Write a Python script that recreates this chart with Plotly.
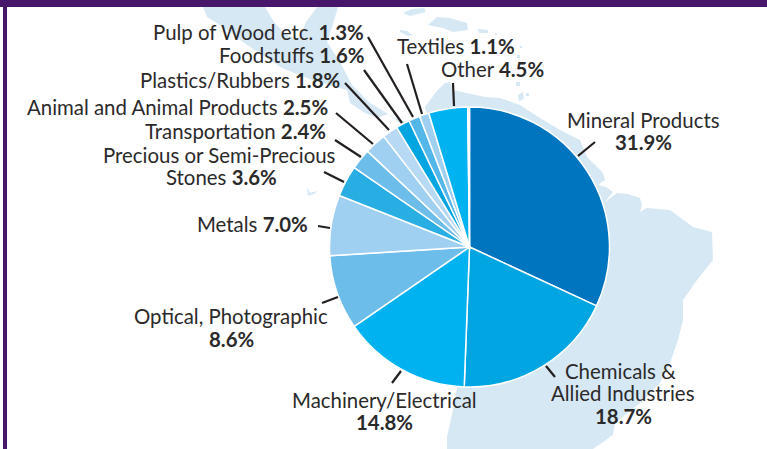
import plotly.graph_objects as go

WIDTH, HEIGHT = 767, 449

# Share of exports by sector, clockwise from twelve o'clock
sectors = ["Mineral Products", "Chemicals & Allied Industries", "Machinery/Electrical",
           "Optical, Photographic", "Metals", "Precious or Semi-Precious Stones",
           "Transportation", "Animal and Animal Products", "Plastics/Rubbers",
           "Foodstuffs", "Pulp of Wood etc.", "Textiles", "Other", "Rounding"]
shares = [31.9, 18.7, 14.8, 8.6, 7.0, 3.6, 2.4, 2.5, 1.8, 1.6, 1.3, 1.1, 4.5, 0.2]
slice_colors = ["#0075bf", "#00a5e2", "#00b3f0", "#6cbdea", "#a0d0f1", "#29aee4",
                "#6cbdea", "#a0d0f1", "#b8d9f4", "#00a5e2", "#54b7e9", "#a0d0f1",
                "#00b3f0", "#cfe6f6"]

LAND = "#d6e8f3"
FRAME = "#47166b"
INK = "#2b2a2b"

# Backdrop map outlines, in page pixels
south_america = [(425, 107), (436, 92), (445, 83), (450, 82), (453, 90), (467, 93), (485, 97),
                 (500, 98), (520, 105), (540, 118), (560, 130), (580, 140), (587, 157),
                 (603, 173), (605, 180), (598, 185), (606, 187), (613, 192), (605, 202),
                 (617, 193), (628, 194), (640, 198), (642, 205), (640, 212), (647, 208),
                 (670, 210), (693, 227), (712, 232), (713, 260), (697, 280), (683, 300),
                 (683, 320), (678, 340), (670, 363), (660, 383), (640, 403), (615, 423),
                 (613, 435), (593, 449), (447, 449), (447, 437), (453, 410), (460, 370),
                 (470, 300)]
central_america = [(203, 7), (207, 17), (223, 27), (243, 42), (262, 55), (282, 68), (312, 80),
                   (332, 86), (347, 90), (350, 103), (365, 113), (377, 118), (388, 114),
                   (400, 123), (430, 130), (395, 118), (370, 103), (352, 85), (340, 62),
                   (327, 42), (333, 24), (338, 7), (317, 7), (306, 22), (298, 40),
                   (285, 34), (274, 22), (265, 7)]
islands = [[(403, 13), (412, 9), (424, 8), (426, 12), (410, 16)],
           [(428, 25), (437, 17), (450, 18), (467, 23), (468, 30), (453, 32), (443, 28)],
           [(400, 30), (407, 31), (413, 35), (408, 36), (400, 32)],
           [(478, 29), (488, 30), (488, 33), (479, 33)],
           [(518, 95), (523, 92), (524, 99), (519, 101)],
           [(516, 82), (520, 82), (520, 86), (516, 86)],
           [(526, 93), (529, 93), (529, 96), (526, 96)],
           [(307, 187), (310, 193), (317, 191), (314, 194), (308, 196)],
           [(495, 33), (497, 33), (497, 35), (495, 35)],
           [(517, 55), (520, 55), (520, 58), (517, 58)],
           [(520, 46), (522, 46), (522, 48), (520, 48)]]

# Short ticks joining each label to its slice
leader_lines = [((368, 37), (413, 117)), ((364, 70), (402, 123)), ((345, 83), (389, 130)),
                ((336, 113), (373, 144)), ((335, 140), (361, 157)), ((324, 172), (344, 182)),
                ((318, 226), (330, 228)), ((322, 303), (338, 297)), ((392, 383), (401, 371)),
                ((546, 366), (555, 377)), ((578, 156), (595, 142)), ((453, 83), (454, 106)),
                ((407, 64), (422, 114))]

# Text lines: content, centre x, centre y
label_lines = [("Pulp of Wood etc. <b>1.3%</b>", 258, 32),
               ("Foodstuffs <b>1.6%</b>", 291.5, 55),
               ("Plastics/Rubbers <b>1.8%</b>", 239.5, 80),
               ("Animal and Animal Products <b>2.5%</b>", 177, 107),
               ("Transportation <b>2.4%</b>", 235, 131),
               ("Precious or Semi-Precious", 219, 155),
               ("Stones <b>3.6%</b>", 221.5, 177),
               ("Metals <b>7.0%</b>", 252, 224),
               ("Optical, Photographic", 231, 316),
               ("<b>8.6%</b>", 231, 339),
               ("Machinery/Electrical", 384, 400),
               ("<b>14.8%</b>", 384, 422),
               ("Chemicals &", 620, 371),
               ("Allied Industries", 623, 393),
               ("<b>18.7%</b>", 623, 416),
               ("Mineral Products", 643, 120),
               ("<b>31.9%</b>", 643, 142),
               ("Textiles <b>1.1%</b>", 456, 46),
               ("Other <b>4.5%</b>", 492.5, 69)]


def px(x):
    return x / WIDTH


def py(y):
    return 1 - y / HEIGHT


def outline(points):
    head, *rest = points
    path = f"M{px(head[0]):.5f},{py(head[1]):.5f}"
    path += "".join(f" L{px(x):.5f},{py(y):.5f}" for x, y in rest)
    return path + " Z"


shapes = []
for poly in [south_america, central_america, *islands]:
    shapes.append(dict(type="path", xref="paper", yref="paper", path=outline(poly),
                       fillcolor=LAND, line=dict(width=0), layer="below"))
for (x0, y0), (x1, y1) in leader_lines:
    shapes.append(dict(type="line", xref="paper", yref="paper", x0=px(x0), y0=py(y0),
                       x1=px(x1), y1=py(y1), line=dict(color="#231f20", width=2.2),
                       layer="above"))
# Purple frame along the top and left edges
shapes.append(dict(type="rect", xref="paper", yref="paper", x0=0, x1=1, y0=py(7), y1=1,
                   fillcolor=FRAME, line=dict(width=0), layer="above"))
shapes.append(dict(type="rect", xref="paper", yref="paper", x0=px(3), x1=px(7), y0=0, y1=1,
                   fillcolor=FRAME, line=dict(width=0), layer="above"))

annotations = [dict(text=text, x=px(x), y=py(y), xref="paper", yref="paper", showarrow=False,
                    xanchor="center", yanchor="middle",
                    font=dict(family="Lato", size=20.4, color=INK))
               for text, x, y in label_lines]

pie = go.Pie(labels=sectors, values=shares, sort=False, direction="clockwise", rotation=0,
             marker=dict(colors=slice_colors, line=dict(color="white", width=1.5)),
             textinfo="none", hoverinfo="label+value", showlegend=False,
             domain=dict(x=[px(329.5), px(609.5)], y=[py(387), py(107)]))

fig = go.Figure(pie)
fig.update_layout(width=WIDTH, height=HEIGHT, margin=dict(l=0, r=0, t=0, b=0),
                  paper_bgcolor="white", plot_bgcolor="white",
                  shapes=shapes, annotations=annotations)
fig.write_html("out.html")
